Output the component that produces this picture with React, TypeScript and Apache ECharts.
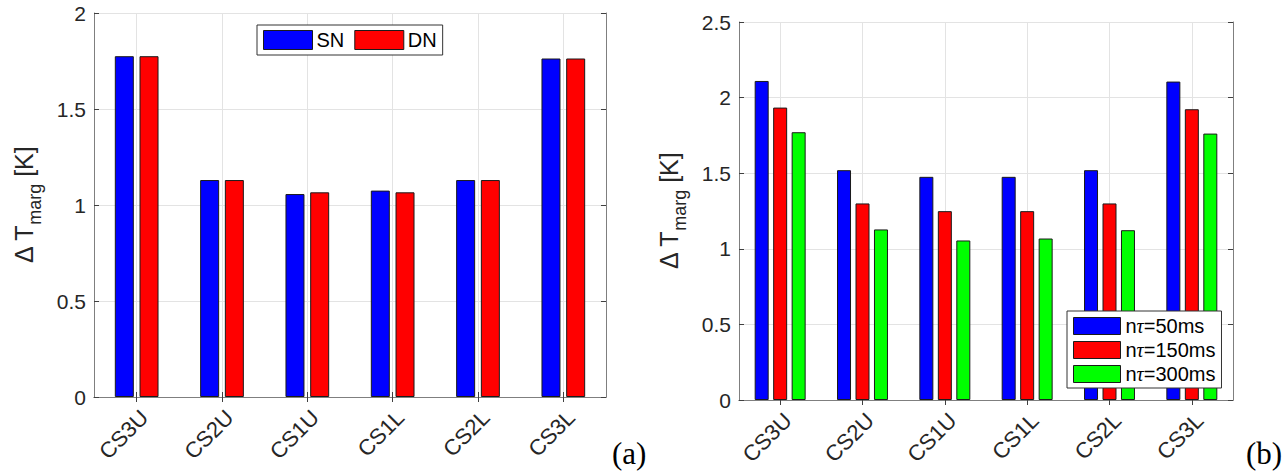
import React, { useEffect, useRef } from "react";
import * as echarts from "echarts";

const categories = ["CS3U", "CS2U", "CS1U", "CS1L", "CS2L", "CS3L"];
const snValues = [1.775, 1.13, 1.057, 1.075, 1.13, 1.763];
const dnValues = [1.775, 1.13, 1.066, 1.066, 1.13, 1.763];
const tau50Values = [2.11, 1.52, 1.476, 1.476, 1.52, 2.106];
const tau150Values = [1.934, 1.3, 1.249, 1.249, 1.3, 1.923];
const tau300Values = [1.771, 1.128, 1.055, 1.068, 1.123, 1.762];
const leftLegend = ["SN", "DN"];
const rightLegend = ["nτ=50ms", "nτ=150ms", "nτ=300ms"];
const leftYMax = 2;
const rightYMax = 2.5;
const yStep = 0.5;

const FONT = "Liberation Sans, Arial, Helvetica, sans-serif";
const AXIS_COLOR = "#7f7f7f";
const TICK_COLOR = "#404040";
const GRID_COLOR = "#e3e3e3";
const TEXT_COLOR = "#262626";

const halfSteps: string[] = [];
for (let i = 0; i <= categories.length * 2; i++) halfSteps.push("h" + i);

function xAxes(gridIndex: number) {
  return [
    {
      type: "category",
      gridIndex,
      data: categories,
      position: "bottom",
      axisLine: { show: true, lineStyle: { color: AXIS_COLOR, width: 1 } },
      axisTick: {
        show: true,
        inside: true,
        length: 5,
        alignWithLabel: true,
        lineStyle: { color: TICK_COLOR },
      },
      axisLabel: {
        rotate: 45,
        margin: 9,
        fontSize: 22,
        fontFamily: FONT,
        color: TEXT_COLOR,
        interval: 0,
        align: "right",
        verticalAlign: "top",
      },
      splitLine: { show: false },
    },
    {
      type: "category",
      gridIndex,
      data: halfSteps,
      boundaryGap: false,
      position: "top",
      axisLine: { show: true, lineStyle: { color: AXIS_COLOR, width: 1 } },
      axisTick: {
        show: true,
        inside: true,
        length: 5,
        interval: (i: number) => i % 2 === 1,
        lineStyle: { color: TICK_COLOR },
      },
      axisLabel: { show: false },
      splitLine: {
        show: true,
        interval: (i: number) => i % 2 === 1,
        lineStyle: { color: GRID_COLOR, width: 1 },
      },
    },
  ];
}

const yName = "{m|Δ T}{s|marg}{m| [K]}";
const yNameStyle = {
  fontFamily: FONT,
  color: TEXT_COLOR,
  rich: {
    m: { fontSize: 25, lineHeight: 25, verticalAlign: "top", fontFamily: FONT, color: TEXT_COLOR },
    s: {
      fontSize: 18,
      lineHeight: 18,
      verticalAlign: "top",
      padding: [15, 0, 0, 0],
      fontFamily: FONT,
      color: TEXT_COLOR,
    },
  },
};

function yAxes(gridIndex: number, max: number) {
  return [
    {
      type: "value",
      gridIndex,
      min: 0,
      max,
      interval: yStep,
      position: "left",
      name: yName,
      nameLocation: "middle",
      nameRotate: 90,
      nameGap: 58,
      nameTextStyle: yNameStyle,
      axisLine: { show: true, lineStyle: { color: AXIS_COLOR, width: 1 } },
      axisTick: { show: true, inside: true, length: 5, lineStyle: { color: TICK_COLOR } },
      axisLabel: { fontSize: 21, fontFamily: FONT, color: TEXT_COLOR, margin: 8 },
      splitLine: { show: true, lineStyle: { color: GRID_COLOR, width: 1 } },
    },
    {
      type: "value",
      gridIndex,
      min: 0,
      max,
      interval: yStep,
      position: "right",
      axisLine: { show: true, lineStyle: { color: AXIS_COLOR, width: 1 } },
      axisTick: { show: true, inside: true, length: 5, lineStyle: { color: TICK_COLOR } },
      axisLabel: { show: false },
      splitLine: { show: false },
    },
  ];
}

function bar(name: string, data: number[], color: string, xi: number, yi: number, width: number, gap: string) {
  return {
    type: "bar",
    name,
    data,
    xAxisIndex: xi,
    yAxisIndex: yi,
    barWidth: width,
    barGap: gap,
    itemStyle: { color, borderColor: "#1a1a1a", borderWidth: 1 },
  };
}

const legendCommon = {
  icon: "rect",
  backgroundColor: "#ffffff",
  borderColor: "#333333",
  borderWidth: 1,
  borderRadius: 0,
  itemStyle: { borderColor: "#1a1a1a", borderWidth: 1 },
  selectedMode: false,
};

export default function App() {
  const ref = useRef<HTMLDivElement>(null);
  useEffect(() => {
    if (!ref.current) return;
    const chart = echarts.init(ref.current, null, { renderer: "svg" });
    chart.setOption({
      animation: false,
      backgroundColor: "#ffffff",
      grid: [
        { left: 94, top: 13, width: 512, height: 384 },
        { left: 739, top: 22, width: 494, height: 378 },
      ],
      xAxis: [...xAxes(0), ...xAxes(1)],
      yAxis: [...yAxes(0, leftYMax), ...yAxes(1, rightYMax)],
      legend: [
        {
          ...legendCommon,
          data: leftLegend,
          orient: "horizontal",
          left: 257,
          top: 25,
          itemWidth: 49,
          itemHeight: 19,
          itemGap: 10,
          padding: [5, 6, 5, 6],
          textStyle: { fontSize: 20, fontFamily: FONT, color: "#000", padding: [0, 0, 0, -1] },
        },
        {
          ...legendCommon,
          data: rightLegend,
          orient: "vertical",
          left: 1067,
          top: 311,
          itemWidth: 47,
          itemHeight: 17,
          itemGap: 4,
          padding: [5, 6, 4, 6],
          formatter: (n: string) => n.replace("τ", "{t|τ}"),
          textStyle: {
            fontSize: 20,
            fontFamily: FONT,
            color: "#000",
            rich: {
              t: { fontSize: 20, fontStyle: "italic", fontFamily: "Liberation Serif, serif", color: "#000" },
            },
          },
        },
      ],
      graphic: [
        {
          type: "text",
          left: 612,
          top: 438,
          style: { text: "(a)", font: '31px "Liberation Serif", serif', fill: "#000" },
        },
        {
          type: "text",
          left: 1246,
          top: 438,
          style: { text: "(b)", font: '31px "Liberation Serif", serif', fill: "#000" },
        },
      ],
      series: [
        bar(leftLegend[0], snValues, "#0000ff", 0, 0, 19, "30%"),
        bar(leftLegend[1], dnValues, "#ff0000", 0, 0, 19, "30%"),
        bar(rightLegend[0], tau50Values, "#0000ff", 2, 2, 14, "32%"),
        bar(rightLegend[1], tau150Values, "#ff0000", 2, 2, 14, "32%"),
        bar(rightLegend[2], tau300Values, "#00ff00", 2, 2, 14, "32%"),
      ],
    });
    return () => chart.dispose();
  }, []);
  return (
    <div
      ref={ref}
      style={{ position: "fixed", left: 0, top: 0, width: 1286, height: 474, background: "#fff" }}
    />
  );
}
